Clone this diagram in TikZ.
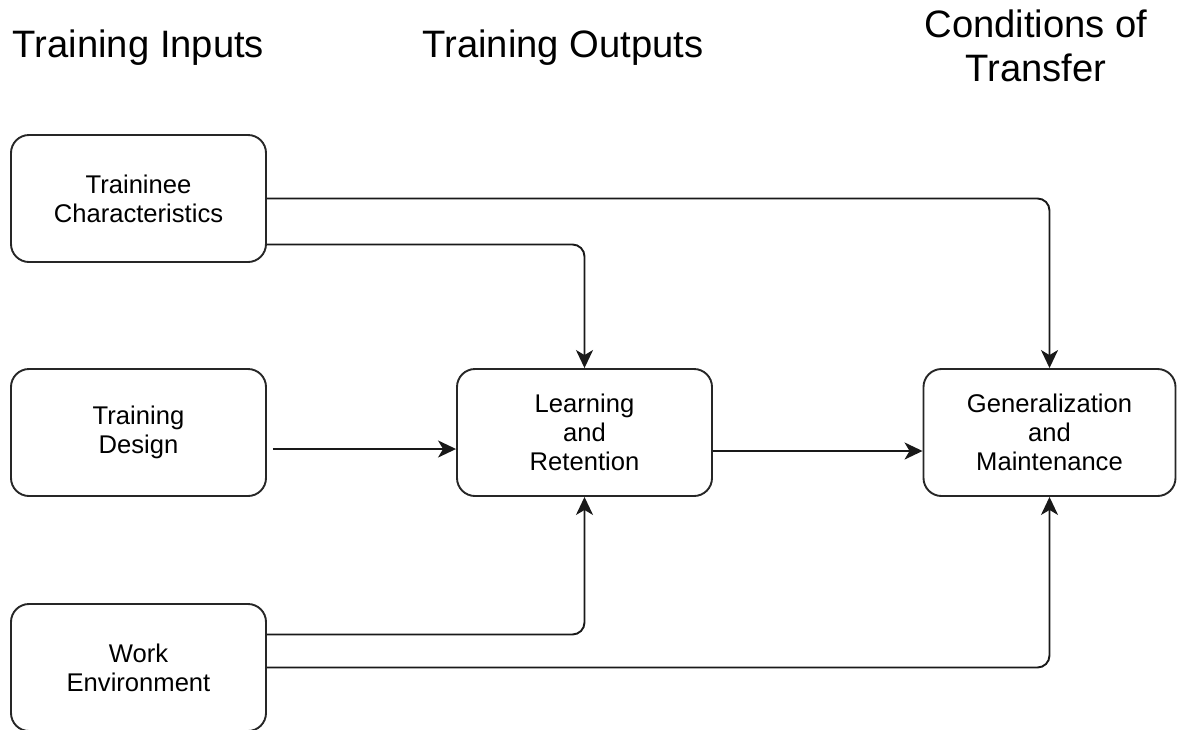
\documentclass[tikz,border=0pt]{standalone}
\usepackage{fontspec}
\setmainfont{Liberation Sans}
\usetikzlibrary{arrows.meta}

\tikzstyle{factor} = [rectangle, rounded corners=18pt, draw=black!85, line width=1.9pt, minimum width=255pt, minimum height=127pt, align=center, font=\fontsize{25.6}{29}\selectfont]
\tikzstyle{heading} = [align=center, font=\fontsize{38.2}{44}\selectfont]
\tikzstyle{arrow} = [line width=1.9pt, draw=black!90, rounded corners=12pt, -{Stealth[length=18pt,width=17pt,inset=5pt]}]

\begin{document}
\begin{tikzpicture}[x=1pt,y=-1pt]

        \useasboundingbox (0,0) rectangle (1177,729);

        % inputs on the left, one under the other
        \node (trainee) [factor] at (138.5,198.5) {Traininee\\Characteristics};
        \node (design) [factor, below of=trainee, node distance=234pt]
            {Training\\Design};
        \node (work) [factor, below of=design, node distance=235pt]
            {Work\\Environment};

        % outputs and transfer
        \node (learn) [factor, right of=design, node distance=446pt]
            {Learning\\and\\Retention};
        \node (gen) [factor, minimum width=252pt, right of=learn, node distance=465pt]
            {Generalization\\and\\Maintenance};

        % column titles
        \node (inputs) [heading, above of=trainee, node distance=151pt] {Training Inputs};
        \node (outputs) [heading] at (563,47.5) {Training Outputs};
        \node (transfer) [heading] at (1036,46) {Conditions of\\Transfer};

        % arrows
        \draw [arrow] ([yshift=-46pt]trainee.east) -| (learn.north) ;
        \draw [arrow] (trainee.east) -| (gen.north) ;

        \draw [arrow] ([xshift=6pt,yshift=-16.5pt]design.east) --
            ([yshift=-16.5pt]learn.west) ;
        \draw [arrow] ([yshift=-18.5pt]learn.east) --
            ([yshift=-18.5pt]gen.west) ;

        \draw [arrow] ([yshift=33pt]work.east) -| (learn.south) ;
        \draw [arrow] (work.east) -| (gen.south) ;

\end{tikzpicture}
\end{document}
